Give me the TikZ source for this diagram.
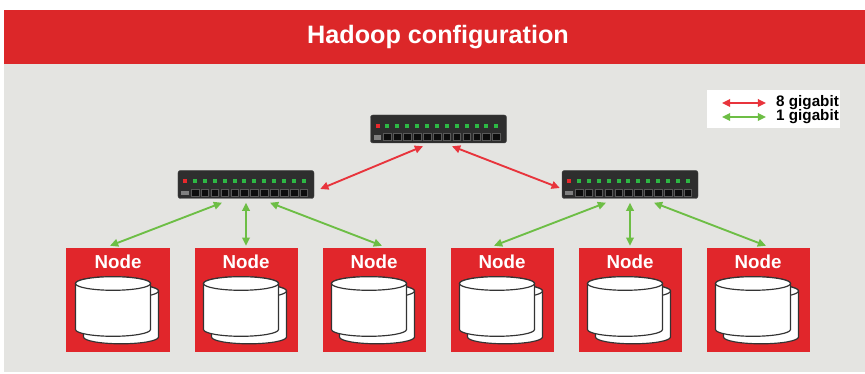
\documentclass[tikz,border=0pt]{standalone}
\usepackage{fontspec}
\setmainfont{Liberation Sans}
\usetikzlibrary{arrows.meta, positioning, calc}
\definecolor{banner}{HTML}{DC2729}
\definecolor{panel}{HTML}{E4E4E1}
\definecolor{nodered}{HTML}{E1262B}
\definecolor{linkred}{HTML}{E8343C}
\definecolor{linkgreen}{HTML}{6DBE45}
\definecolor{ledgreen}{HTML}{2DB844}
\definecolor{ledred}{HTML}{E8282C}
\definecolor{chassis}{HTML}{2E2E2E}

% one drum of the disk stack, top ellipse centred at (#1,#2)
\newcommand{\drum}[2]{%
  \filldraw[disk] (#1-37.5,#2) -- (#1-37.5,#2-46)
    arc[start angle=180, end angle=360, x radius=37.5, y radius=6.8]
    -- (#1+37.5,#2)
    arc[start angle=0, end angle=180, x radius=37.5, y radius=6.8] -- cycle;
  \draw[disk] (#1,#2) ellipse [x radius=37.5, y radius=6.8];%
}

\begin{document}
\begin{tikzpicture}[
    x=0.03cm, y=0.03cm,
    nodebox/.style={fill=nodered, minimum width=3.09cm, minimum height=3.12cm,
                    inner sep=0pt},
    nodelabel/.style={text=white, font=\fontsize{16}{18}\selectfont\bfseries,
                      inner sep=0pt},
    switchbox/.style={fill=chassis, draw=black!70, rounded corners=2pt,
                      minimum width=4.08cm, minimum height=0.84cm, inner sep=0pt},
    disk/.style={fill=white, draw=black!80, line width=1pt},
    gig8/.style={{Triangle[length=7pt,width=6.5pt]}-{Triangle[length=7pt,width=6.5pt]},
                 linkred, line width=1.6pt},
    gig1/.style={{Triangle[length=7pt,width=6.5pt]}-{Triangle[length=7pt,width=6.5pt]},
                 linkgreen, line width=1.6pt},
    legendtext/.style={font=\fontsize{13}{15}\selectfont\bfseries, inner sep=0pt,
                       anchor=west},
]
    \useasboundingbox (0,0) rectangle (865,374);

    % banner and panel
    \fill[panel] (4,2) rectangle (865,310);
    \fill[banner] (4,310) rectangle (865,364);
    \node[text=white, font=\fontsize{21.5}{24}\selectfont\bfseries] (title)
        at (438,337) {Hadoop configuration};

    % switches
    \node[switchbox] (swtop) at (438.5,245) {};
    \node[switchbox] (swl) at (246,189.5) {};
    \node[switchbox] (swr) at (630,189.5) {};
    \foreach \s in {swtop,swl,swr} {
        \fill[ledred] ($(\s.north west)+(5.3,-13)$) rectangle ++(4,4.2);
        \foreach \i in {1,...,12}
            \fill[ledgreen] ($(\s.north west)+(5.3+\i*9.9,-13)$) rectangle ++(4,4.2);
        \fill[black!50] ($(\s.north west)+(3.5,-25)$) rectangle ++(7.6,4.5);
        \foreach \i in {1,...,12}
            \filldraw[fill=black!95, draw=black!65, line width=0.3pt]
                ($(\s.north west)+(3.5+\i*9.9,-25.5)$) rectangle ++(7.6,7);
    }

    % storage nodes
    \foreach \x [count=\k] in {118,246,374,502,630,758} {
        \node[nodebox] (n\k) at (\x,74) {};
        \node[nodelabel] (n\k-label) at (\x,112.5) {Node};
        \drum{\x+3}{83}
        \drum{\x-5}{90.5}
    }

    % 8 gigabit links
    \draw[gig8] ($(swl.east)+(6,-4.5)$) -- ($(swtop.south)+(-15.5,-3)$);
    \draw[gig8] ($(swtop.south)+(13.5,-3)$) -- ($(swr.west)+(-2,-3.5)$);

    % 1 gigabit links
    \draw[gig1] ($(swl.south)+(-24,-4)$) -- ($(n1.north)+(-8,2)$);
    \draw[gig1] ($(swl.south)+(0,-4)$) -- ($(n2.north)+(0,2)$);
    \draw[gig1] ($(swl.south)+(24,-4)$) -- ($(n3.north)+(8,2)$);
    \draw[gig1] ($(swr.south)+(-24,-4)$) -- ($(n4.north)+(-8,2)$);
    \draw[gig1] ($(swr.south)+(0,-4)$) -- ($(n5.north)+(0,2)$);
    \draw[gig1] ($(swr.south)+(24,-4)$) -- ($(n6.north)+(8,2)$);

    % legend
    \node[fill=white, minimum width=3.99cm, minimum height=1.14cm, inner sep=0pt]
        (legend) at (773.5,265) {};
    \node[legendtext] (l8) at (776,271) {8 gigabit};
    \node[legendtext] (l1) at (776,257) {1 gigabit};
    \coordinate (l8start) at (722,271);
    \coordinate (l1start) at (722,257);
    \draw[gig8] (l8start) -- ($(l8.west)+(-10,0)$);
    \draw[gig1] (l1start) -- ($(l1.west)+(-10,0)$);
\end{tikzpicture}
\end{document}
